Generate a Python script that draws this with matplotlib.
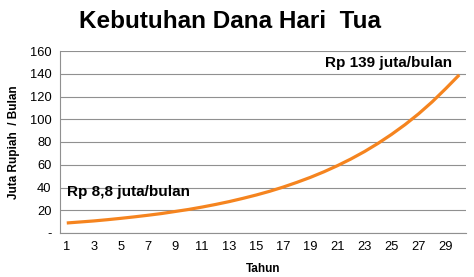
import matplotlib
matplotlib.use("Agg")
import matplotlib.pyplot as plt

plt.rcParams['font.family'] = ['Liberation Sans', 'DejaVu Sans']

# Kebutuhan dana per bulan (juta rupiah), tahun 1..30
tahun = list(range(1, 31))
dana = [8.8, 9.7, 10.6, 11.7, 12.9, 14.2, 15.6, 17.1, 18.9, 20.7,
        22.8, 25.1, 27.6, 30.4, 33.4, 36.7, 40.4, 44.5, 48.9, 53.8,
        59.2, 65.1, 71.6, 78.8, 86.7, 95.3, 104.8, 115.3, 126.9, 139.0]
y_ticks = [0, 20, 40, 60, 80, 100, 120, 140, 160]
y_labels = ['-', '20', '40', '60', '80', '100', '120', '140', '160']
x_ticks = list(range(1, 30, 2))

fig = plt.figure(figsize=(4.74, 2.77), dpi=100)
ax = fig.add_axes([60 / 474, 1 - 233 / 277, 406 / 474, 182 / 277])

ax.plot(tahun, dana, color='#F5841F', linewidth=2.3, solid_capstyle='butt')

ax.set_xlim(0.5, 30.5)
ax.set_ylim(0, 160)
ax.set_yticks(y_ticks)
ax.set_yticklabels(y_labels)
ax.set_xticks(x_ticks)
ax.tick_params(length=0, labelsize=9.3, pad=6)
ax.yaxis.grid(True, color='#909090', linewidth=0.8)
ax.set_axisbelow(True)
for s in ['top', 'right']:
    ax.spines[s].set_visible(False)
for s in ['left', 'bottom']:
    ax.spines[s].set_color('#909090')
    ax.spines[s].set_linewidth(0.8)

ax.set_xlabel('Tahun', fontsize=8.5, fontweight='bold', labelpad=7)
ax.set_ylabel('Juta Rupiah  / Bulan', fontsize=8.5, fontweight='bold', labelpad=7)

ax.text(1.05, 36, 'Rp 8,8 juta/bulan', fontsize=11, fontweight='bold',
        ha='left', va='center')
ax.text(29.45, 149.5, 'Rp 139 juta/bulan', fontsize=11, fontweight='bold',
        ha='right', va='center')

fig.text(230 / 474, 1 - 22 / 277, 'Kebutuhan Dana Hari  Tua', fontsize=17.5,
         fontweight='bold', ha='center', va='center')

fig.savefig('out.png', dpi=100)
